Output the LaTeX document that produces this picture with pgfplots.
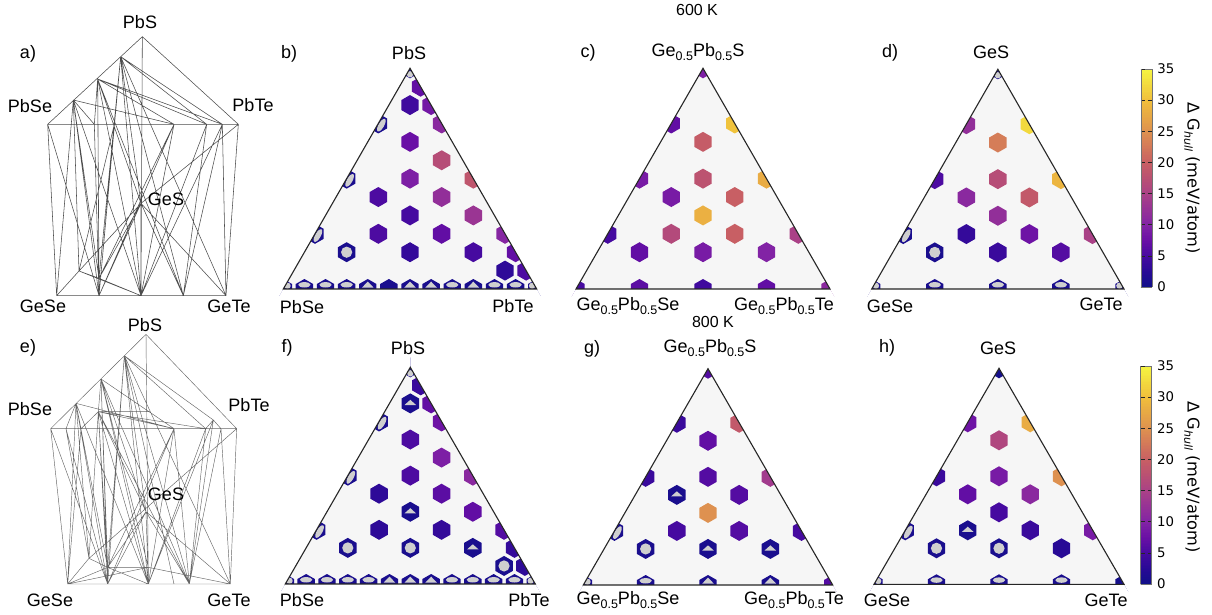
\documentclass[border=0pt]{standalone}
\usepackage{pgfplots}
\usepackage{fontspec}
\setmainfont{Liberation Sans}
\newfontfamily\djf{DejaVu Sans}
\pgfplotsset{compat=1.18}
\pgfplotsset{colormap={pl}{
 rgb255(0)=(16,16,136) rgb255(25)=(40,10,150) rgb255(50)=(70,10,160) rgb255(75)=(105,15,165)
 rgb255(100)=(130,35,165) rgb255(125)=(150,50,150) rgb255(150)=(170,65,135) rgb255(175)=(185,80,115)
 rgb255(200)=(200,95,100) rgb255(250)=(222,145,80) rgb255(300)=(240,190,60) rgb255(350)=(245,245,65)}}
\definecolor{gr}{HTML}{CFCFCF}
\pgfdeclareplotmark{hex}{\pgfpathmoveto{\pgfqpoint{0pt}{10pt}}\pgfpathlineto{\pgfqpoint{8.7pt}{5pt}}\pgfpathlineto{\pgfqpoint{8.7pt}{-5pt}}\pgfpathlineto{\pgfqpoint{0pt}{-10pt}}\pgfpathlineto{\pgfqpoint{-8.7pt}{-5pt}}\pgfpathlineto{\pgfqpoint{-8.7pt}{5pt}}\pgfpathclose\pgfusepathqfill}
\pgfdeclareplotmark{ic}{\pgfpathcircle{\pgfqpoint{0pt}{0pt}}{5.6pt}\pgfusepathqfill}
\pgfdeclareplotmark{it}{\pgfpathmoveto{\pgfqpoint{0pt}{3.6pt}}\pgfpathlineto{\pgfqpoint{5.8pt}{-1.6pt}}\pgfpathlineto{\pgfqpoint{-5.8pt}{-1.6pt}}\pgfpathclose\pgfusepathqfill}
\pgfdeclareplotmark{ibt}{\pgfpathmoveto{\pgfqpoint{0pt}{7.4pt}}\pgfpathlineto{\pgfqpoint{5.8pt}{1.4pt}}\pgfpathlineto{\pgfqpoint{-5.8pt}{1.4pt}}\pgfpathclose\pgfusepathqfill}
\pgfdeclareplotmark{ieb}{\pgfpathellipse{\pgfqpoint{0pt}{4.2pt}}{\pgfqpoint{6.2pt}{0pt}}{\pgfqpoint{0pt}{2.7pt}}\pgfusepathqfill}
\pgfdeclareplotmark{iel}{\pgfpathellipse{\pgfqpoint{3pt}{-1.7pt}}{\pgfqpoint{3.6pt}{6.2pt}}{\pgfqpoint{2.4pt}{-1.4pt}}\pgfusepathqfill}
\pgfdeclareplotmark{icl}{\pgfpathcircle{\pgfqpoint{4.2pt}{3.2pt}}{3.2pt}\pgfusepathqfill}
\pgfdeclareplotmark{icr}{\pgfpathcircle{\pgfqpoint{-4.6pt}{3.2pt}}{3.2pt}\pgfusepathqfill}
\pgfdeclareplotmark{ica}{\pgfpathcircle{\pgfqpoint{0pt}{-6pt}}{3.2pt}\pgfusepathqfill}
\pgfplotsset{
 ternary/.style n args={4}{anchor=south west,
   at={({(#1-#3/24)*1pt},{(614-#2-#4/12)*1pt})},
   scale only axis,width={(#3/24*26)*1pt},height={(#4/12*14)*1pt},
   xmin=-1,xmax=25,ymin=-1,ymax=13,hide axis,
   point meta min=0,point meta max=35,colormap name=pl},
 tie/.style n args={2}{anchor=south west,at={(0pt,{(614-#1-#2)*1pt})},
   scale only axis,width=270pt,height={#2*1pt},
   xmin=0,xmax=810,ymin=0,ymax={#2*3},y dir=reverse,hide axis,clip=false},
 cbar/.style n args={2}{colorbar sampled,colorbar style={samples=141,
   at={(parent axis.south east)},anchor=south west,xshift=#1,yshift=#2,
   width=11pt,height=218pt,ytick={0,5,...,35},
   /pgf/number format/assume math mode=true,
   yticklabel style={font=\djf\fontsize{13.3}{15}\selectfont,xshift=2pt},
   tick style={color=black!85,line width=.6pt},major tick length=4pt,
   axis line style={color=black!55,line width=.5pt}}},
}
\newcommand\hexes[1]{\addplot[scatter,only marks,scatter src=explicit,mark=hex,
  scatter/use mapped color={draw=mapped color,fill=mapped color},forget plot] coordinates {#1};}
\newcommand\inner[2]{\addplot[only marks,mark=#1,mark options={fill=gr,draw=none},color=gr,forget plot] coordinates {#2};}
\newcommand\tribg{\addplot[fill=black!3.5,draw=none,forget plot] coordinates {(0,0)(24,0)(12,12)} -- cycle;}
\newcommand\mask[4]{\begin{axis}[ternary={#1}{#2}{#3}{#4}]
 \addplot[fill=white,draw=none,forget plot] coordinates {(-1,-1)(-1,13)(12,13)(12,12)(0,0)} -- cycle;
 \addplot[fill=white,draw=none,forget plot] coordinates {(25,-1)(25,13)(12,13)(12,12)(24,0)} -- cycle;
 \addplot[fill=white,draw=none,forget plot] coordinates {(-1,-1)(25,-1)(24,0)(0,0)} -- cycle;
 \addplot[draw=black!85,line width=1.1pt,line join=miter,forget plot] coordinates {(0,0)(24,0)(12,12)} -- cycle;
 \end{axis}}
\newcommand\lbl[3]{\node[inner sep=0pt,font=\fontsize{18}{20}\selectfont] at (#1pt,{(614-#2)*1pt}) {#3};}
\newcommand\sub[1]{\raisebox{-.22em}{\fontsize{12.5}{13}\selectfont #1}}
\newcommand\GP{Ge\sub{0.5}Pb\sub{0.5}}
\begin{document}
\begin{tikzpicture}[x=1pt,y=1pt]
\path[use as bounding box] (0pt,0pt) rectangle (1212pt,614pt);
% a
\begin{axis}[tie={0}{310}]
\addplot[black!70,line width=.55pt,unbounded coords=jump,forget plot] coordinates {
(427,110)(143,373)(nan,nan)(427,110)(715,373)(nan,nan)(143,373)(715,373)(nan,nan)(143,373)(170,887)(nan,nan)(715,373)(678,887)(nan,nan)(170,887)(678,887)(nan,nan)(427,110)(423,887)(nan,nan)
(362,170)(667,373)(nan,nan)(362,170)(620,373)(nan,nan)(362,170)(297,887)(nan,nan)(362,170)(423,887)(nan,nan)(362,170)(550,887)(nan,nan)(362,170)(678,887)(nan,nan)(362,170)(423,610)(nan,nan)(362,170)(343,373)(nan,nan)(362,170)(297,835)(nan,nan)
(293,237)(667,373)(nan,nan)(293,237)(620,373)(nan,nan)(293,237)(522,373)(nan,nan)(293,237)(297,887)(nan,nan)(293,237)(297,887)(nan,nan)(293,237)(297,835)(nan,nan)(293,237)(423,887)(nan,nan)(293,237)(550,887)(nan,nan)(293,237)(423,610)(nan,nan)(293,237)(283,373)(nan,nan)
(220,300)(522,373)(nan,nan)(220,300)(283,373)(nan,nan)(220,300)(170,887)(nan,nan)(220,300)(297,887)(nan,nan)(220,300)(297,887)(nan,nan)(220,300)(297,835)(nan,nan)(220,300)(297,835)(nan,nan)(220,300)(423,887)(nan,nan)(220,300)(237,813)(nan,nan)
(143,373)(297,887)(nan,nan)(283,373)(297,887)(nan,nan)(343,373)(297,887)(nan,nan)(343,373)(297,887)(nan,nan)(343,373)(237,813)(nan,nan)
(522,373)(297,887)(nan,nan)(522,373)(423,887)(nan,nan)(522,373)(297,835)(nan,nan)(620,373)(423,887)(nan,nan)(620,373)(550,887)(nan,nan)
(667,373)(423,887)(nan,nan)(667,373)(550,887)(nan,nan)(667,373)(678,887)(nan,nan)
(715,373)(423,610)(nan,nan)(423,610)(237,813)(nan,nan)(423,610)(297,887)(nan,nan)(423,610)(423,887)(nan,nan)(423,610)(550,887)(nan,nan)(423,610)(678,887)(nan,nan)(423,610)(297,835)(nan,nan)
(237,813)(170,887)(nan,nan)(237,813)(423,887)(nan,nan)(237,813)(297,835)(nan,nan)(297,835)(297,887)(nan,nan)(297,835)(423,887)
};
\end{axis}
% e
\begin{axis}[tie={305}{309}]
\addplot[black!60,line width=.45pt,unbounded coords=jump,forget plot] coordinates {
(438,88)(152,371)(nan,nan)(438,88)(710,371)(nan,nan)(152,371)(710,371)(nan,nan)(152,371)(203,837)(nan,nan)(710,371)(691,837)(nan,nan)(203,837)(691,837)(nan,nan)(438,88)(445,837)(nan,nan)
(373,152)(640,345)(nan,nan)(373,152)(617,371)(nan,nan)(373,152)(323,837)(nan,nan)(373,152)(445,837)(nan,nan)(373,152)(568,837)(nan,nan)(373,152)(691,837)(nan,nan)(373,152)(438,620)(nan,nan)(373,152)(522,837)(nan,nan)(373,152)(323,787)(nan,nan)
(303,222)(295,320)(nan,nan)(303,222)(522,371)(nan,nan)(303,222)(323,837)(nan,nan)(303,222)(323,787)(nan,nan)(303,222)(445,787)(nan,nan)(303,222)(445,837)(nan,nan)(303,222)(568,837)(nan,nan)(303,222)(438,620)(nan,nan)
(295,320)(617,371)(nan,nan)(295,320)(522,371)(nan,nan)(295,320)(450,320)(nan,nan)(295,320)(243,371)(nan,nan)(295,320)(323,837)(nan,nan)(295,320)(445,837)(nan,nan)(295,320)(568,837)(nan,nan)(295,320)(438,620)(nan,nan)(295,320)(267,760)(nan,nan)(295,320)(323,787)(nan,nan)
(228,295)(522,371)(nan,nan)(228,295)(198,371)(nan,nan)(228,295)(243,371)(nan,nan)(228,295)(203,837)(nan,nan)(228,295)(323,837)(nan,nan)(228,295)(323,787)(nan,nan)(228,295)(323,787)(nan,nan)(228,295)(445,837)(nan,nan)(228,295)(267,760)(nan,nan)
(152,371)(323,837)(nan,nan)(198,371)(323,837)(nan,nan)(243,371)(203,837)(nan,nan)(198,371)(267,760)(nan,nan)
(522,371)(323,787)(nan,nan)(522,371)(445,837)(nan,nan)(522,371)(323,837)(nan,nan)(522,371)(568,837)(nan,nan)
(617,371)(445,837)(nan,nan)(617,371)(568,837)(nan,nan)(640,345)(568,837)(nan,nan)(640,345)(617,371)(nan,nan)(640,345)(663,371)(nan,nan)(640,345)(445,837)(nan,nan)(663,371)(568,837)(nan,nan)(663,371)(691,837)(nan,nan)
(710,371)(267,760)(nan,nan)(438,620)(323,837)(nan,nan)(438,620)(445,837)(nan,nan)(438,620)(568,837)(nan,nan)(438,620)(691,837)(nan,nan)(438,620)(323,787)(nan,nan)
(267,760)(203,837)(nan,nan)(267,760)(323,787)(nan,nan)(323,787)(203,837)(nan,nan)(323,787)(323,837)(nan,nan)(323,787)(445,837)(nan,nan)(323,787)(445,787)(nan,nan)(445,787)(203,837)(nan,nan)(445,787)(445,837)(nan,nan)(445,787)(691,837)
};
\end{axis}
% b
\begin{axis}[ternary={283.3}{289}{253.4}{220.7}]
\tribg
\hexes{(12,12)[1](13,11)[7](12,10)[4.5](14,10)[8.5](15,9)[11](9,9)[1](12,8)[7.5](15,7)[17](12,6)[9.5](18,6)[18.5](6,6)[1](9,5)[5.5](15,5)[12](12,4)[5](18,4)[13](9,3)[5.5](15,3)[7](21,3)[10.5](3,3)[1](6,2)[1](12,2)[3.5](18,2)[5](22,2)[7](21,1)[3](23,1)[5.5](0,0)[1](2,0)[1](4,0)[1](6,0)[1](8,0)[1](10,0)[1](12,0)[1](14,0)[1](16,0)[1](18,0)[1](20,0)[1](22,0)[1](24,0)[1]}
\inner{ica}{(12,12)}
\inner{iel}{(9,9)(6,6)(3,3)}
\inner{ic}{(6,2)}
\inner{ieb}{(2,0)(4,0)(6,0)(16,0)(20,0)(22,0)}
\inner{ibt}{(8,0)(12,0)(14,0)(18,0)}
\inner{icl}{(0,0)}
\inner{icr}{(24,0)}
\end{axis}
\mask{283.3}{289}{253.4}{220.7}
% c
\begin{axis}[ternary={576}{289}{254}{220.7}]
\tribg
\hexes{(12,12)[9.5](9,9)[7](15,9)[30.5](12,8)[19.5](12,6)[18](6,6)[9](18,6)[28](9,5)[9](15,5)[20](12,4)[28.5](9,3)[16.5](15,3)[20](3,3)[5](21,3)[15](6,2)[7](12,2)[9](18,2)[10](0,0)[5](6,0)[6.5](12,0)[4.5](18,0)[7](24,0)[11]}
\end{axis}
\mask{576}{289}{254}{220.7}
% d
\begin{axis}[ternary={871.7}{289}{252.3}{219.7},cbar={-2.3pt}{20.3pt}]
\tribg
\hexes{(12,12)[1](9,9)[12](15,9)[32.5](12,8)[23](12,6)[17](6,6)[5.5](18,6)[29](9,5)[11](15,5)[19](12,4)[12](9,3)[3.5](15,3)[8](3,3)[1](21,3)[15](6,2)[1](12,2)[4](18,2)[6](0,0)[1](6,0)[1](12,0)[1](18,0)[1](24,0)[1]}
\inner{ica}{(12,12)}
\inner{iel}{(3,3)}
\inner{ic}{(6,2)}
\inner{ieb}{(6,0)(12,0)(18,0)}
\inner{icl}{(0,0)}
\inner{icr}{(24,0)}
\end{axis}
\mask{871.7}{289}{252.3}{219.7}
% f
\begin{axis}[ternary={285.3}{584}{250}{216.7}]
\tribg
\hexes{(12,12)[1](13,11)[4](12,10)[1](14,10)[7](9,9)[1](15,9)[8](12,8)[5.5](15,7)[9.5](12,6)[5.5](6,6)[1](18,6)[11](9,5)[3](15,5)[6.5](12,4)[1](18,4)[7](9,3)[3](15,3)[3.5](3,3)[1](21,3)[6](6,2)[1](12,2)[1](18,2)[1](22,2)[3.5](21,1)[1](23,1)[3](0,0)[1](2,0)[1](4,0)[1](6,0)[1](8,0)[1](10,0)[1](12,0)[1](14,0)[1](16,0)[1](18,0)[1](20,0)[1](22,0)[1](24,0)[1]}
\inner{ica}{(12,12)}
\inner{it}{(12,10)(12,4)(18,2)}
\inner{iel}{(9,9)(6,6)(3,3)}
\inner{ic}{(6,2)(12,2)(21,1)}
\inner{ieb}{(2,0)(4,0)(6,0)(8,0)(16,0)(18,0)(20,0)(22,0)}
\inner{ibt}{(10,0)(12,0)(14,0)}
\inner{icl}{(0,0)}
\inner{icr}{(24,0)}
\end{axis}
\mask{285.3}{584}{250}{216.7}
% g
\begin{axis}[ternary={583.3}{585}{249.4}{216.3}]
\tribg
\hexes{(12,12)[6](9,9)[4](15,9)[19](12,8)[7](12,6)[6](6,6)[4](18,6)[14](9,5)[1](15,5)[6](12,4)[25](9,3)[5](15,3)[6](3,3)[1](21,3)[5](6,2)[1](12,2)[1](18,2)[1](0,0)[1](6,0)[1](12,0)[1](18,0)[1](24,0)[6]}
\inner{it}{(9,5)(12,2)(18,2)}
\inner{iel}{(3,3)}
\inner{ic}{(6,2)}
\inner{ieb}{(6,0)}
\inner{ibt}{(12,0)(18,0)}
\inner{icl}{(0,0)}
\end{axis}
\mask{583.3}{585}{249.4}{216.3}
% h
\begin{axis}[ternary={874}{584.3}{250}{216},cbar={-2.3pt}{18.3pt}]
\tribg
\hexes{(12,12)[.5](9,9)[8](15,9)[28](12,8)[16](12,6)[9](6,6)[4](18,6)[25](9,5)[7](15,5)[11](12,4)[5](9,3)[1](15,3)[4](3,3)[1](21,3)[9](6,2)[1](12,2)[1](18,2)[2.5](0,0)[1](6,0)[1](12,0)[1](18,0)[1](24,0)[.5]}
\inner{it}{(9,3)}
\inner{iel}{(3,3)}
\inner{ic}{(6,2)(12,2)}
\inner{ieb}{(6,0)(12,0)(18,0)}
\inner{icl}{(0,0)}
\end{axis}
\mask{874}{584.3}{250}{216}
% labels
\lbl{140}{22}{PbS}\lbl{28}{54}{a)}\lbl{30}{106}{PbSe}\lbl{253}{105}{PbTe}\lbl{166}{199}{GeS}\lbl{43}{306}{GeSe}\lbl{229}{306}{GeTe}
\lbl{145}{325}{PbS}\lbl{28}{348}{e)}\lbl{30}{409}{PbSe}\lbl{249}{405}{PbTe}\lbl{166}{494}{GeS}\lbl{50}{600}{GeSe}\lbl{229}{600}{GeTe}
\lbl{289}{54}{b)}\lbl{409}{53}{PbS}\lbl{302}{307}{PbSe}\lbl{513}{306}{PbTe}
\lbl{588}{53}{c)}\lbl{698}{52}{\GP S}\lbl{628}{306}{\GP Se}\lbl{784}{306}{\GP Te}
\lbl{890}{53}{d)}\lbl{991}{52}{GeS}\lbl{890}{306}{GeSe}\lbl{1101}{304}{GeTe}
\lbl{287}{348}{f)}\lbl{408}{348}{PbS}\lbl{302}{600}{PbSe}\lbl{529}{600}{PbTe}
\lbl{592}{349}{g)}\lbl{710}{348}{\GP S}\lbl{628}{600}{\GP Se}\lbl{794}{600}{\GP Te}
\lbl{887}{348}{h)}\lbl{998}{348}{GeS}\lbl{887}{600}{GeSe}\lbl{1106}{600}{GeTe}
\node[inner sep=0pt,font=\fontsize{16}{18}\selectfont] at (697pt,{(614-10)*1pt}) {600 K};
\node[inner sep=0pt,font=\fontsize{16}{18}\selectfont] at (713pt,{(614-322)*1pt}) {800 K};
\node[inner sep=0pt,rotate=-90,font=\djf\fontsize{16.2}{18}\selectfont] at (1192pt,{(614-178)*1pt}) {Δ G\raisebox{-.2em}{\fontsize{11}{12}\selectfont\itshape hull} (meV/atom)};
\node[inner sep=0pt,rotate=-90,font=\djf\fontsize{16.2}{18}\selectfont] at (1192pt,{(614-477)*1pt}) {Δ G\raisebox{-.2em}{\fontsize{11}{12}\selectfont\itshape hull} (meV/atom)};
\end{tikzpicture}
\end{document}
